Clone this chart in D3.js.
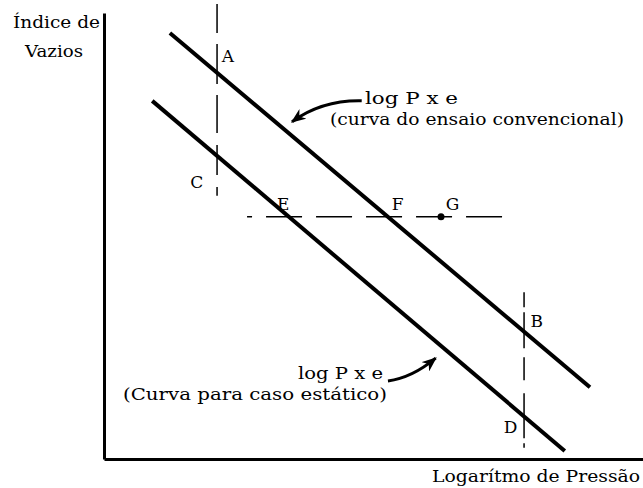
<!DOCTYPE html>
<html>
<head>
<meta charset="utf-8">
<script src="https://cdn.jsdelivr.net/npm/d3@7"></script>
<style>
  body { margin: 0; background: #fff; }
  svg text { font-family: "DejaVu Serif", serif; fill: #000; }
</style>
</head>
<body>
<svg width="643" height="488"></svg>
<script>
(() => {
  // chart units: x = log of pressure (0..100.6), y = void ratio (0..100)
  const upperCurve = [[12.3, 95.5], [90.7, 16.1]];   // ensaio convencional
  const lowerCurve = [[9.0, 80.3], [86.0, 1.8]];     // caso estatico
  const verticalA = [[21.1, 102.0], [21.1, 59.0]];
  const verticalB = [[78.4, 37.4], [78.4, 2.5]];
  const horizontalEFG = [[26.7, 54.3], [74.8, 54.3]];
  const pointG = [62.9, 54.3];

  const pointNames = ['A', 'C', 'E', 'F', 'G', 'B', 'D'];
  const pointLabelPos = [[22.0, 89.0], [16.1, 60.8], [32.3, 55.8], [53.7, 55.8], [63.8, 55.8], [79.6, 29.6], [74.6, 5.8]];

  const noteLines = [
    ['log P x e', '(curva do ensaio convencional)'],
    ['log P x e', '(Curva para caso estático)']
  ];
  // arrows: start, control, end
  const noteArrows = [
    [[48.1, 80.3], [40.7, 80.5], [35.1, 75.6]],
    [[53.0, 17.5], [57.5, 18.2], [61.9, 22.6]]
  ];

  const xTitle = 'Logarítmo de Pressão';
  const yTitle = ['Índice de', 'Vazios'];

  const svg = d3.select('svg');
  const x = d3.scaleLinear().domain([0, 100.6]).range([104, 643]);
  const y = d3.scaleLinear().domain([0, 100]).range([459, 13]);
  const line = d3.line().x(d => x(d[0])).y(d => y(d[1]));

  svg.append('defs').append('marker')
      .attr('id', 'head')
      .attr('viewBox', '0 0 10 8')
      .attr('refX', 9).attr('refY', 4)
      .attr('markerWidth', 5).attr('markerHeight', 4)
      .attr('orient', 'auto')
      .attr('markerUnits', 'strokeWidth')
    .append('path')
      .attr('d', 'M0,0 L10,4 L0,8 L3,4 Z')
      .attr('fill', '#000');

  // axes without ticks
  svg.append('g')
      .attr('transform', 'translate(0,459)')
      .call(d3.axisBottom(x).ticks(0).tickSizeOuter(0))
      .select('.domain').attr('stroke-width', 3);
  svg.append('g')
      .attr('transform', 'translate(104,0)')
      .call(d3.axisLeft(y).ticks(0).tickSizeOuter(0))
      .select('.domain').attr('stroke-width', 3);

  // dashed guides
  svg.append('path').attr('d', line(verticalA))
      .attr('stroke', '#000').attr('stroke-width', 1.5).attr('fill', 'none')
      .attr('stroke-dasharray', '29,11,40,11,38,12,30,12');
  svg.append('path').attr('d', line(verticalB))
      .attr('stroke', '#000').attr('stroke-width', 1.5).attr('fill', 'none')
      .attr('stroke-dasharray', '15,5,36,9,23,13,45,5');
  svg.append('path').attr('d', line(horizontalEFG))
      .attr('stroke', '#000').attr('stroke-width', 1.5).attr('fill', 'none')
      .attr('stroke-dasharray', '36,14').attr('stroke-dashoffset', 31);

  // the two curves
  [upperCurve, lowerCurve].forEach((c) => {
    svg.append('path').attr('d', line(c))
        .attr('stroke', '#000').attr('stroke-width', 4).attr('fill', 'none');
  });

  svg.append('circle')
      .attr('cx', x(pointG[0])).attr('cy', y(pointG[1])).attr('r', 3.5)
      .attr('fill', '#000');

  svg.selectAll('.pt-label')
    .data(pointNames)
    .enter().append('text')
      .attr('class', 'pt-label')
      .attr('x', (d, i) => x(pointLabelPos[i][0]))
      .attr('y', (d, i) => y(pointLabelPos[i][1]))
      .style('font-size', '17px')
      .text(d => d);

  // annotation arrows
  noteArrows.forEach((a) => {
    const p = d3.path();
    p.moveTo(x(a[0][0]), y(a[0][1]));
    p.quadraticCurveTo(x(a[1][0]), y(a[1][1]), x(a[2][0]), y(a[2][1]));
    svg.append('path').attr('d', p.toString())
        .attr('stroke', '#000').attr('stroke-width', 3).attr('fill', 'none')
        .attr('marker-end', 'url(#head)');
  });

  // annotation texts, stretched to the widths of the scanned lettering
  const notePos = [[[365, 104], [330, 125]], [[298, 379], [123, 400]]];
  const noteLen = [[93, 294], [85, 264]];
  noteLines.forEach((lines, i) => {
    lines.forEach((t, j) => {
      svg.append('text')
          .attr('x', notePos[i][j][0]).attr('y', notePos[i][j][1])
          .attr('textLength', noteLen[i][j]).attr('lengthAdjust', 'spacingAndGlyphs')
          .style('font-size', '16px')
          .text(t);
    });
  });

  svg.append('text')
      .attr('x', 432).attr('y', 482)
      .attr('textLength', 208).attr('lengthAdjust', 'spacingAndGlyphs')
      .style('font-size', '16px')
      .text(xTitle);

  svg.append('text')
      .attr('x', 13).attr('y', 28)
      .attr('textLength', 87).attr('lengthAdjust', 'spacingAndGlyphs')
      .style('font-size', '16px')
      .text(yTitle[0]);
  svg.append('text')
      .attr('x', 25).attr('y', 57)
      .attr('textLength', 58).attr('lengthAdjust', 'spacingAndGlyphs')
      .style('font-size', '16px')
      .text(yTitle[1]);
})();
</script>
</body>
</html>
